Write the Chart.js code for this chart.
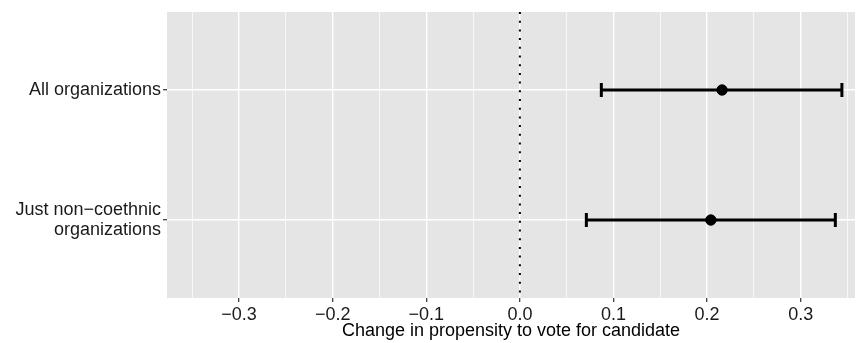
<!DOCTYPE html>
<html>
<head>
<meta charset="utf-8">
<script src="https://cdn.jsdelivr.net/npm/chart.js@4"></script>
<style>
  body { margin: 0; background: #fff; }
</style>
</head>
<body>
<canvas id="myChart" width="862" height="343"></canvas>
<script>
var categories = ["All organizations", ["Just non\u2212coethnic", "organizations"]];
var estimates = [0.216, 0.204];
var lower = [0.087, 0.071];
var upper = [0.344, 0.337];
var xTicks = [-0.35, -0.3, -0.25, -0.2, -0.15, -0.1, -0.05, 0, 0.05, 0.1, 0.15, 0.2, 0.25, 0.3, 0.35];

function isMajor(v) {
  return Math.abs(v * 10 - Math.round(v * 10)) < 1e-6;
}

var panelBg = {
  id: "panelBg",
  beforeDraw: function (chart) {
    var a = chart.chartArea;
    chart.ctx.save();
    chart.ctx.fillStyle = "#E5E5E5";
    chart.ctx.fillRect(a.left, a.top, a.right - a.left, a.bottom - a.top);
    chart.ctx.restore();
  }
};

var datasets = [
  {
    data: [{ x: 0, y: 0.4 }, { x: 0, y: 2.6 }],
    showLine: true,
    borderColor: "#000",
    borderWidth: 2,
    borderDash: [2, 6.7],
    pointRadius: 0
  }
];

categories.forEach(function (c, i) {
  datasets.push({
    data: [{ x: lower[i], y: i + 1 }, { x: upper[i], y: i + 1 }],
    showLine: true,
    borderColor: "#000",
    borderWidth: 3,
    pointStyle: "line",
    pointRotation: 90,
    pointRadius: 7,
    pointBorderWidth: 3,
    pointBorderColor: "#000"
  });
});

datasets.push({
  data: estimates.map(function (v, i) { return { x: v, y: i + 1 }; }),
  pointRadius: 5.2,
  pointBackgroundColor: "#000",
  pointBorderColor: "#000"
});

var font = "'Liberation Sans', Arial, sans-serif";
var ctx = document.getElementById("myChart").getContext("2d");

var myChart = new Chart(ctx, {
  type: "scatter",
  data: { datasets: datasets },
  plugins: [panelBg],
  options: {
    responsive: false,
    animation: false,
    layout: { autoPadding: false, padding: { left: 0, top: 12, right: 7, bottom: 0 } },
    plugins: {
      legend: { display: false },
      tooltip: { enabled: false }
    },
    scales: {
      x: {
        type: "linear",
        min: -0.377,
        max: 0.358,
        afterBuildTicks: function (scale) {
          scale.ticks = xTicks.map(function (v) { return { value: v }; });
        },
        afterFit: function (scale) {
          scale.height = 45;
          scale.paddingLeft = 0;
          scale.paddingRight = 0;
        },
        border: { display: false },
        grid: {
          color: "#fff",
          lineWidth: function (c) { return isMajor(c.tick.value) ? 1.4 : 0.7; },
          tickLength: 4,
          tickWidth: 1.2,
          tickColor: function (c) { return isMajor(c.tick.value) ? "#333" : "rgba(0,0,0,0)"; }
        },
        ticks: {
          autoSkip: false,
          maxRotation: 0,
          padding: 2,
          color: "#1a1a1a",
          font: { family: font, size: 18 },
          callback: function (v) {
            if (!isMajor(v)) return "";
            return v.toFixed(1).replace("-", "\u2212");
          }
        },
        title: {
          display: true,
          text: "Change in propensity to vote for candidate",
          color: "#000",
          padding: { top: 0, bottom: 1 },
          font: { family: font, size: 18, lineHeight: 1.2 }
        }
      },
      y: {
        type: "linear",
        reverse: true,
        min: 0.4,
        max: 2.6,
        afterBuildTicks: function (scale) {
          scale.ticks = categories.map(function (c, i) { return { value: i + 1 }; });
        },
        afterFit: function (scale) {
          scale.width = 167;
          scale.paddingTop = 0;
          scale.paddingBottom = 0;
        },
        border: { display: false },
        grid: {
          color: "#fff",
          lineWidth: 1.4,
          tickLength: 4,
          tickWidth: 1.2,
          tickColor: "#333"
        },
        ticks: {
          autoSkip: false,
          padding: 2,
          color: "#1a1a1a",
          font: { family: font, size: 18, lineHeight: 1.12 },
          callback: function (v) { return categories[Math.round(v) - 1]; }
        }
      }
    }
  }
});
</script>
</body>
</html>
